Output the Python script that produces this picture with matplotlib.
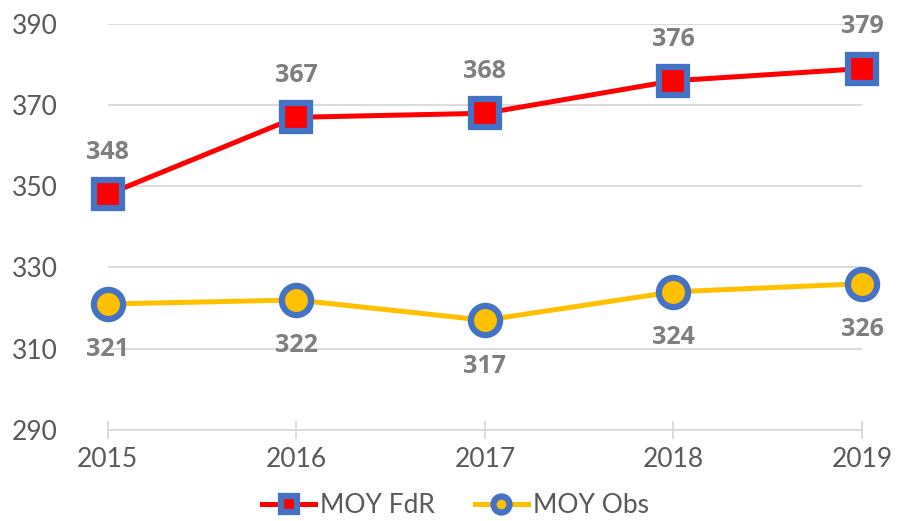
import matplotlib.pyplot as plt

plt.rcParams['font.family'] = ['Lato', 'DejaVu Sans']

annees = ['2015', '2016', '2017', '2018', '2019']
moy_fdr = [348, 367, 368, 376, 379]
moy_obs = [321, 322, 317, 324, 326]

gris_texte = '#595959'
gris_label = '#7F7F7F'
bleu = '#4472C4'

fig = plt.figure(figsize=(8.97, 5.21), dpi=100)
ax = fig.add_axes([0.120, 0.175, 0.841, 0.779])

x = range(len(annees))

# Lignes avec marqueurs
ax.plot(x, moy_fdr, color='#FF0000', lw=3.6, marker='s', ms=20,
        mfc='#FF0000', mec=bleu, mew=4.5, label='MOY FdR', zorder=3,
        clip_on=False)
ax.plot(x, moy_obs, color='#FFC000', lw=3.6, marker='o', ms=21,
        mfc='#FFC000', mec=bleu, mew=4.5, label='MOY Obs', zorder=3,
        clip_on=False)

# Etiquettes de données
for i, v in enumerate(moy_fdr):
    ax.annotate(str(v), (i, v), xytext=(0, 30), textcoords='offset points',
                ha='center', va='center', fontsize=18, fontweight='bold',
                family=['Open Sans', 'DejaVu Sans'], color=gris_label)
for i, v in enumerate(moy_obs):
    ax.annotate(str(v), (i, v), xytext=(0, -33), textcoords='offset points',
                ha='center', va='center', fontsize=18, fontweight='bold',
                family=['Open Sans', 'DejaVu Sans'], color=gris_label)

ax.set_xlim(0, len(annees) - 1)
ax.set_ylim(290, 390)
ax.set_yticks(range(290, 391, 20))
ax.set_xticks(list(x))
ax.set_xticklabels(annees)

ax.grid(axis='y', color='#D9D9D9', lw=1.3)
ax.set_axisbelow(True)
for s in ['top', 'right', 'left']:
    ax.spines[s].set_visible(False)
ax.spines['bottom'].set_color('#D9D9D9')
ax.spines['bottom'].set_linewidth(1.3)

ax.tick_params(axis='y', length=0, labelsize=19, labelcolor=gris_texte, pad=36)
ax.tick_params(axis='x', direction='inout', length=13, width=1.3,
               color='#D9D9D9', labelsize=19, labelcolor=gris_texte, pad=6)

leg = fig.legend(loc='center', bbox_to_anchor=(0.508, 0.03), ncol=2,
                 frameon=False, fontsize=19, labelcolor=gris_texte,
                 markerscale=0.55, handlelength=2.0, columnspacing=1.5,
                 handletextpad=0.2, borderpad=0.1)

fig.savefig('out.png', dpi=100)
